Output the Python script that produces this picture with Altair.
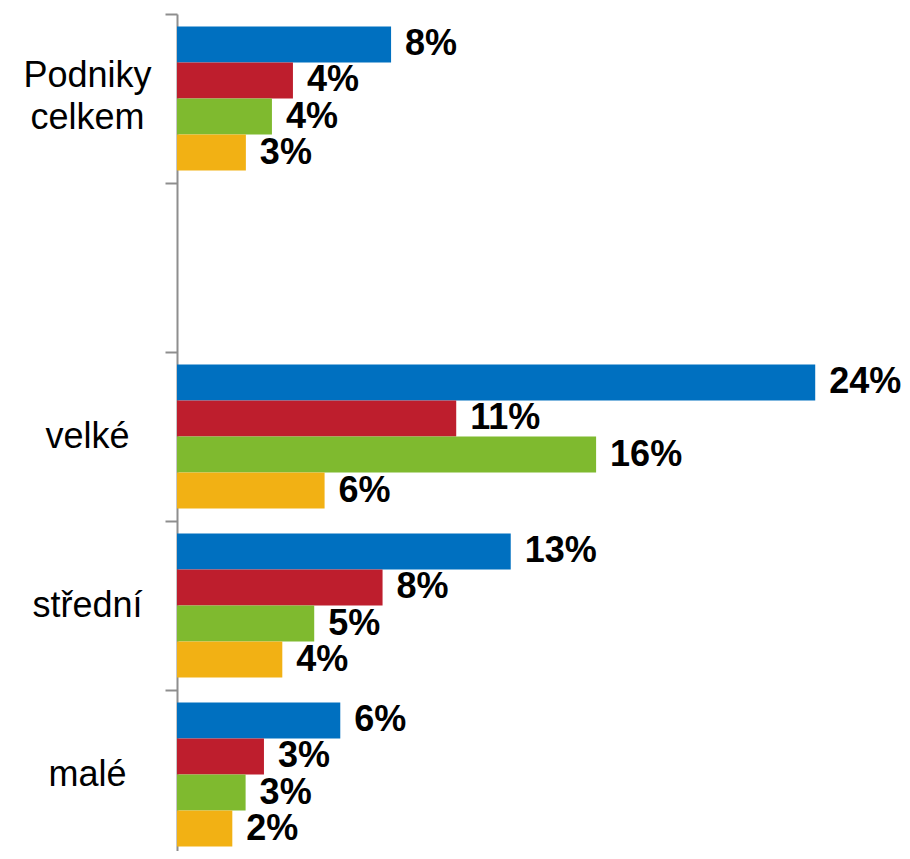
import altair as alt
import pandas as pd

# Categories (the blank one is the empty gap slot in the original)
categories = ["Podniky celkem", " ", "velké", "střední", "malé"]
series = ["Série 1", "Série 2", "Série 3", "Série 4"]
colors = ["#0070C0", "#BE1E2D", "#7FBA2F", "#F2B114"]

# Values in %
podniky_celkem = [8.05, 4.36, 3.57, 2.59]
velke = [24.0, 10.5, 15.76, 5.55]
stredni = [12.55, 7.73, 5.16, 3.96]
male = [6.14, 3.27, 2.58, 2.08]

rows = []
for cat, vals in [("Podniky celkem", podniky_celkem), ("velké", velke),
                  ("střední", stredni), ("malé", male)]:
    for s, v in zip(series, vals):
        rows.append({"kategorie": cat, "rada": s, "hodnota": v})
df = pd.DataFrame(rows)

FONT = "Liberation Sans"

y_enc = alt.Y(
    "kategorie:N",
    sort=categories,
    scale=alt.Scale(domain=categories, range=[0, 845], paddingInner=0, paddingOuter=0),
    axis=alt.Axis(
        title=None,
        grid=False,
        bandPosition=0,
        labelOffset={"condition": {"test": "datum.value == 'Podniky celkem'", "value": -23},
                     "value": 0},
        tickSize=12,
        tickWidth=2,
        tickColor="#8E8E8E",
        domainColor="#8E8E8E",
        domainWidth=2,
        labelFont=FONT,
        labelFontSize=36,
        labelColor="#000000",
        labelAlign="center",
        labelBaseline="middle",
        labelPadding=78,
        labelLineHeight=42,
        labelLimit=400,
        labelExpr="datum.value == 'Podniky celkem' ? ['Podniky', 'celkem'] : datum.label",
    ),
)
yoff_enc = alt.YOffset(
    "rada:N", sort=series,
    scale=alt.Scale(domain=series, paddingInner=0, paddingOuter=0.347),
)
x_enc = alt.X("hodnota:Q", scale=alt.Scale(domain=[0, 27], nice=False), axis=None)

base = alt.Chart(df).encode(y=y_enc, yOffset=yoff_enc, x=x_enc)

bars = base.mark_bar(cornerRadius=0).encode(
    color=alt.Color("rada:N", scale=alt.Scale(domain=series, range=colors), legend=None)
)

labels = base.transform_calculate(
    label="format(datum.hodnota, '.0f') + '%'"
).mark_text(
    align="left", baseline="middle", dx=14, font=FONT, fontSize=36,
    fontWeight="bold", color="#000000"
).encode(text="label:N")

chart = (bars + labels).properties(
    width=718,
    height=837,
    autosize=alt.AutoSizeParams(type="none"),
    padding={"left": 169, "top": 6, "right": 7, "bottom": 0},
    background="white",
).configure_view(stroke=None)

chart.save("out.html", embed_options={"renderer": "svg", "actions": False})
